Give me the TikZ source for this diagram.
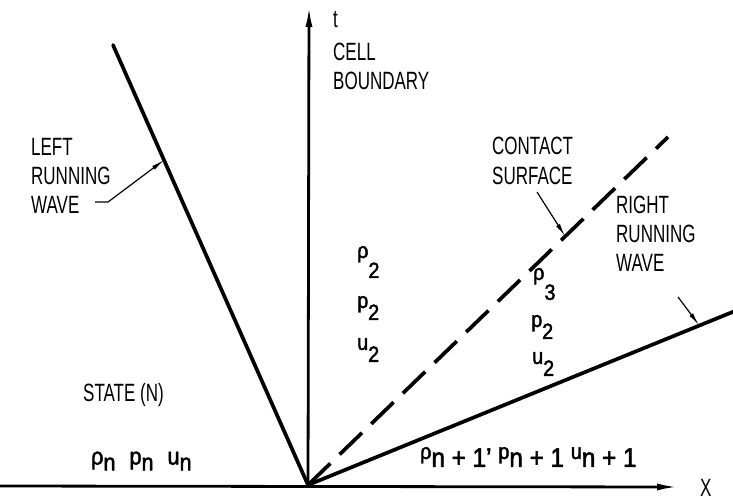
\documentclass[tikz,border=0pt]{standalone}
\usepackage{fontspec}
\setmainfont{Liberation Sans}[FakeStretch=0.68]
\newfontfamily\symfont{Liberation Sans}[FakeStretch=0.9,FakeBold=2]
\usetikzlibrary{arrows.meta}

% raised letter with a lowered index, as in the sketch
\newcommand{\lowsub}[2]{#1\raisebox{-12pt}{#2}}
\newcommand{\highrho}{\raisebox{8pt}{ρ}}
\newcommand{\smallup}[1]{\raisebox{8pt}{\fontsize{22}{22}\selectfont #1}}

\begin{document}
\begin{tikzpicture}[x=1pt, y=-1pt,
    wave/.style={line width=3.7pt, line cap=round},
    axis/.style={line width=2.8pt, -{Latex[length=22pt,width=7pt]}},
    pointer/.style={line width=1.2pt, -{Latex[length=13pt,width=4.5pt]}},
    lbl/.style={font=\fontsize{25}{29}\selectfont, align=left, anchor=west, inner sep=0pt},
    sym/.style={font=\symfont\fontsize{22}{22}\selectfont, anchor=west, inner sep=0pt}]
  \useasboundingbox (0,0) rectangle (733,501);

  % axes
  \coordinate (O) at (308,485);
  \coordinate (xStart) at (0,486);
  \coordinate (xEnd) at (679,487);
  \coordinate (tEnd) at (309,5);
  \draw[axis] (xStart) -- (xEnd);
  \draw[axis] (O) -- (tEnd);

  % waves out of the origin
  \coordinate (leftEnd) at (113,45);
  \coordinate (contactEnd) at (668,137);
  \coordinate (rightEnd) at (735,311);
  \draw[wave] (O) -- (leftEnd);
  \draw[wave, line cap=butt, dash pattern=on 31pt off 13pt] (O) -- (contactEnd);
  \draw[wave] (O) -- (rightEnd);

  % labels
  \node[lbl] (tlbl) at (333,20) {t};
  \node[lbl] (cell) at (333,66) {CELL\\BOUNDARY};
  \node[lbl] (leftlbl) at (31,176) {LEFT\\RUNNING\\WAVE};
  \node[lbl, font=\fontsize{25}{30}\selectfont] (contactlbl) at (492,161) {CONTACT\\SURFACE};
  \node[lbl] (rightlbl) at (616,234) {RIGHT\\RUNNING\\WAVE};
  \node[lbl] (state) at (83,395) {STATE (N)};
  \node[lbl] (xlbl) at (700,488) {X};

  % states
  \node[sym] (rhoA) at (357,262) {\lowsub{\highrho}{2}};
  \node[sym] (pA) at (357,308) {\lowsub{p}{2}};
  \node[sym] (uA) at (357,350) {\lowsub{u}{2}};
  \node[sym] (rhoB) at (533,284) {\lowsub{\highrho}{3}};
  \node[sym] (pB) at (531,327) {\lowsub{p}{2}};
  \node[sym] (uB) at (532,364) {\lowsub{u}{2}};
  \node[sym, font=\symfont\fontsize{24}{24}\selectfont] (nstate) at (91,461)
    {ρ\raisebox{-6pt}{n}\hspace{14pt}p\raisebox{-6pt}{n}\hspace{14pt}u\raisebox{-6pt}{n}};
  \node[sym, font=\symfont\fontsize{27}{27}\selectfont] (nnext) at (420,457)
    {\smallup{ρ}n + 1’ \smallup{p}n + 1 \smallup{u}n + 1};

  % pointers onto the waves
  \coordinate (leftFoot) at (95,202);
  \coordinate (leftBend) at (108,202);
  \coordinate (leftHit) at (164,160);
  \draw[pointer] (leftFoot) -- (leftBend) -- (leftHit);
  \coordinate (contactFoot) at (537,192);
  \coordinate (contactHit) at (565,236);
  \draw[pointer] (contactFoot) -- (contactHit);
  \coordinate (rightFoot) at (678,297);
  \coordinate (rightHit) at (699,325);
  \draw[pointer] (rightFoot) -- (rightHit);
\end{tikzpicture}
\end{document}
